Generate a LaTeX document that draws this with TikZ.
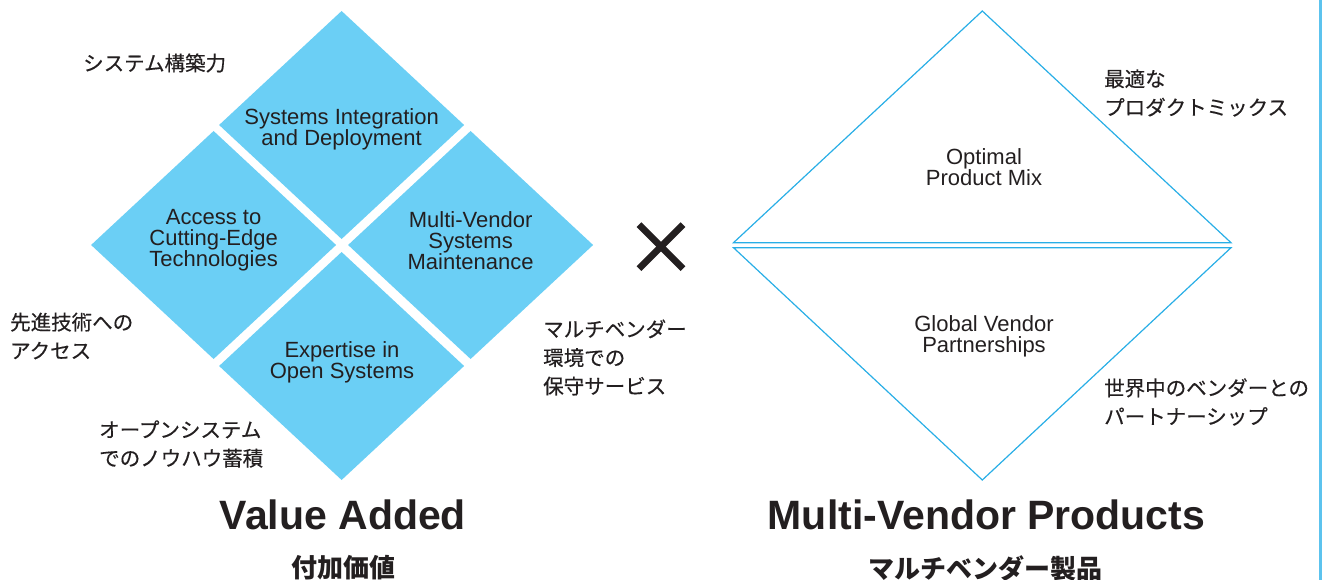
\documentclass[tikz,border=0pt]{standalone}
\usepackage{fontspec}
\setmainfont{Liberation Sans}
\newfontfamily\jpfont{Noto Sans CJK JP}
\newfontfamily\jplfont[FakeBold=0.35]{Noto Sans CJK JP}
\definecolor{tileblue}{HTML}{6BCFF5}
\definecolor{lineblue}{HTML}{29AEE6}
\definecolor{barblue}{HTML}{5CC3EE}
\definecolor{ink}{HTML}{231F20}

\begin{document}
\begin{tikzpicture}
      [%%%%%%%%%%%%%%%%%%%%%%%%%%%%%%
          x=1pt, y=-1pt,
          tile/.style={fill=tileblue},
          tri/.style={draw=lineblue, line width=1.2pt},
          inner/.style={align=center, inner sep=0pt, text=ink, font=\fontsize{22}{21}\selectfont},
          jlabel/.style={anchor=west, align=left, inner sep=0pt, text=ink, font=\jplfont\fontsize{20.5}{28.5}\selectfont},
          title/.style={inner sep=0pt, text=ink, font=\bfseries\fontsize{41}{42}\selectfont},
          jtitle/.style={inner sep=0pt, text=ink, font=\jpfont\bfseries\fontsize{26}{28}\selectfont}
      ]%%%%%%%%%%%%%%%%%%%%%%%%%%%%%%

  \useasboundingbox (0,0) rectangle (1325,580);

  % value added: four tiles
  \foreach \cx/\cy in {341.6/125,213.6/245,470.6/245,341.6/366}{
      \fill[tile] (\cx,\cy-114) -- (\cx+122.5,\cy) -- (\cx,\cy+114) -- (\cx-122.5,\cy) -- cycle;
  }

  \node[inner] (si) at (341.6,129) {Systems Integration\\and Deployment};
  \node[inner] (ac) at (213.6,240.5) {Access to\\Cutting-Edge\\Technologies};
  \node[inner] (mv) at (470.6,240.5) {Multi-Vendor\\Systems\\Maintenance};
  \node[inner] (ex) at (342,362.5) {Expertise in\\Open Systems};

  \node[jlabel] (jsys) at (83,63) {システム構築力};
  \node[jlabel] (jacc) at (10,336) {先進技術への\\アクセス};
  \node[jlabel] (jopen) at (99,444) {オープンシステム\\でのノウハウ蓄積};
  \node[jlabel] (jmaint) at (543,357.5) {マルチベンダー\\環境での\\保守サービス};

  % multi-vendor products: two triangles
  \draw[tri] (982.3,11) -- (1231,242.7) -- (733.5,242.7) -- cycle;
  \draw[tri] (733.5,247.7) -- (1231,247.7) -- (982.3,480) -- cycle;

  \node[inner] (opt) at (984,166.7) {Optimal\\Product Mix};
  \node[inner] (gvp) at (984,336) {Global Vendor\\Partnerships};

  \node[jlabel] (jmix) at (1104,93) {最適な\\プロダクトミックス};
  \node[jlabel] (jpart) at (1104,402) {世界中のベンダーとの\\パートナーシップ};

  % times sign
  \coordinate (cross) at (661,246.7);
  \draw[ink, line width=6.7pt] ([shift={(-22,-22)}]cross) -- ([shift={(22,22)}]cross);
  \draw[ink, line width=6.7pt] ([shift={(-22,22)}]cross) -- ([shift={(22,-22)}]cross);

  \node[title] (va) at (343,514.5) {Value Added};
  \node[jtitle] (vaj) at (343,568) {付加価値};
  \node[title] (mvp) at (986.5,514.5) {Multi-Vendor Products};
  \node[jtitle] (mvpj) at (985,568) {マルチベンダー製品};

  \draw[barblue, line width=2.7pt] (1320.7,0) -- (1320.7,580);

\end{tikzpicture}
\end{document}
